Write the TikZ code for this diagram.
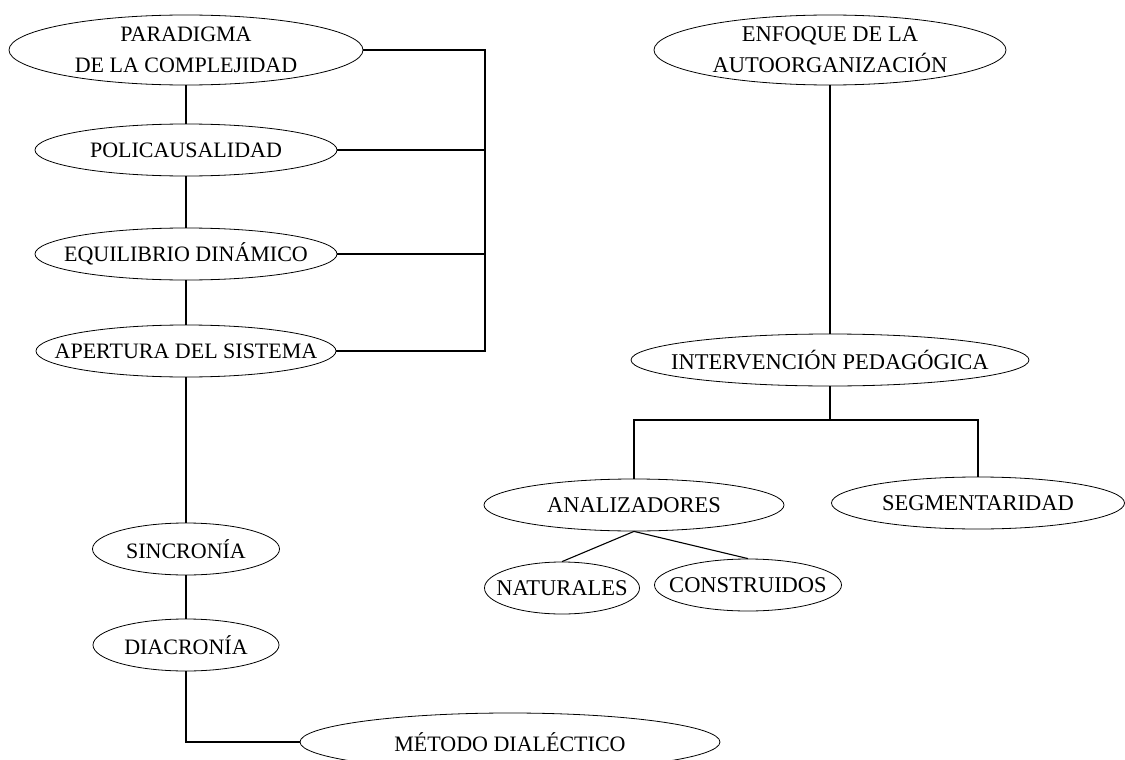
\documentclass[tikz,border=0pt]{standalone}
\usepackage{fontspec}
\setmainfont{Liberation Serif}
\usepackage{xcolor}
\usetikzlibrary{shapes.geometric}

\begin{document}
\begin{tikzpicture}[x=1pt,y=-1pt,node distance=100pt]
    \tikzstyle{concept} = [ellipse, draw, line width=0.8pt, inner xsep=-30pt, inner ysep=0pt, minimum height=52pt, align=center, font=\fontsize{22}{31}\selectfont]
    \tikzstyle{rconcept} = [concept, font=\fontsize{22.5}{31}\selectfont]
    \tikzstyle{line} = [line width=1.8pt]
    \tikzstyle{thinline} = [line width=1.1pt]

    \useasboundingbox (0,0) rectangle (1125,760);

    % left column
    \node[concept, minimum width=354pt, minimum height=70pt] (paradigma) at (186,50) {PARADIGMA\\DE LA COMPLEJIDAD};
    \node[concept, minimum width=302pt, below of=paradigma] (policausalidad) {POLICAUSALIDAD};
    \node[concept, minimum width=302pt, below of=policausalidad, yshift=-4pt] (equilibrio) {EQUILIBRIO DINÁMICO};
    \node[concept, minimum width=300pt, below of=equilibrio, yshift=3pt] (apertura) {APERTURA DEL SISTEMA};
    \node[concept, minimum width=187pt, below of=apertura, yshift=-98pt] (sincronia) {SINCRONÍA};
    \node[concept, minimum width=186pt, below of=sincronia, yshift=4pt] (diacronia) {DIACRONÍA};
    \node[concept, minimum width=420pt, minimum height=58pt] (metodo) at (510,742) {MÉTODO DIALÉCTICO};

    % right column
    \node[rconcept, minimum width=352pt, minimum height=70pt] (enfoque) at (830,50) {ENFOQUE DE LA\\AUTOORGANIZACIÓN};
    \node[rconcept, minimum width=398pt, below of=enfoque, yshift=-210pt] (intervencion) {INTERVENCIÓN PEDAGÓGICA};
    \node[rconcept, minimum width=300pt] (analizadores) at (634,505) {ANALIZADORES};
    \node[rconcept, minimum width=293pt] (segmentaridad) at (978,503) {SEGMENTARIDAD};
    \node[rconcept, minimum width=155pt] (naturales) at (562,588) {NATURALES};
    \node[rconcept, minimum width=187pt] (construidos) at (748,585) {CONSTRUIDOS};

    \coordinate (bartop) at (485,50);
    \coordinate (fork) at (830,420);

    \draw[line] (paradigma) -- (policausalidad);
    \draw[line] (policausalidad) -- (equilibrio);
    \draw[line] (equilibrio) -- (apertura);
    \draw[line] (apertura) -- (sincronia);
    \draw[line] (sincronia) -- (diacronia);
    \draw[line] (diacronia.south) |- (metodo.west);

    \draw[line] (paradigma.east) -- (paradigma.east -| bartop) -- (apertura.east -| bartop) -- (apertura.east);
    \draw[line] (policausalidad.east) -- (policausalidad.east -| bartop);
    \draw[line] (equilibrio.east) -- (equilibrio.east -| bartop);

    \draw[line] (enfoque) -- (intervencion);
    \draw[line] (intervencion.south) -- (fork);
    \draw[line] (analizadores.north) |- (fork) -| (segmentaridad.north);
    \draw[thinline] (analizadores.south) -- (naturales.north);
    \draw[thinline] (analizadores.south) -- (construidos.north);
\end{tikzpicture}
\end{document}
